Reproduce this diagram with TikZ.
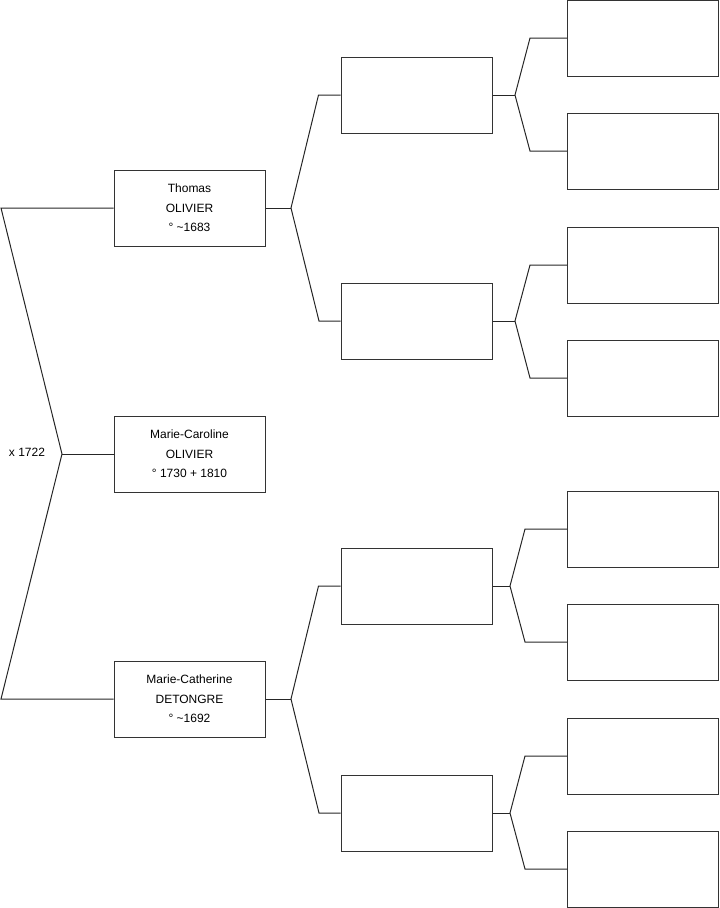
\documentclass[tikz,border=0pt]{standalone}
\usepackage{fontspec}
\setmainfont{Liberation Sans}
\usetikzlibrary{calc}

\begin{document}
\begin{tikzpicture}[
  x=0.75pt, y=-0.75pt,
  font=\fontsize{9}{14.6}\selectfont,
  person/.style={rectangle, draw=black!80, fill=white, line width=0.75pt,
                 minimum width=113.25pt, minimum height=57pt, align=center,
                 inner sep=0pt},
  link/.style={draw=black!85, line width=0.75pt},
]
\useasboundingbox (0,0) rectangle (719,908);
% first column: the couple and their daughter
\node (thomas)    [person] at (189.5,208) {Thomas\\OLIVIER\\° \textasciitilde1683};
\node (caroline)  [person] at (189.5,454) {Marie-Caroline\\OLIVIER\\° 1730 + 1810};
\node (catherine) [person] at (189.5,699) {Marie-Catherine\\DETONGRE\\° \textasciitilde1692};
\node (wed) at (27,452) {x 1722};
% second column (empty)
\node (g1) [person] at (416.5,95)  {};
\node (g2) [person] at (416.5,321) {};
\node (g3) [person] at (416.5,586) {};
\node (g4) [person] at (416.5,813) {};
% third column (empty)
\node (h1) [person] at (643,38)  {};
\node (h2) [person] at (643,151) {};
\node (h3) [person] at (643,265) {};
\node (h4) [person] at (643,378) {};
\node (h5) [person] at (643,529) {};
\node (h6) [person] at (643,642) {};
\node (h7) [person] at (643,756) {};
\node (h8) [person] at (643,869) {};
% couple bracket
\coordinate (left1) at (1,208);
\coordinate (left2) at (1,699);
\coordinate (mid)   at (62,454);
\draw [link] (thomas.west) -- (left1) -- (mid) -- (left2) -- (catherine.west);
\draw [link] (mid) -- (caroline.west);
% brackets to the second column
\coordinate (jt) at (291,208);
\draw [link] (thomas.east) -- (jt);
\draw [link] (g1.west) -- ++(-22,0) -- (jt) -- (319,321) -- (g2.west);
\coordinate (jc) at (291,699);
\draw [link] (catherine.east) -- (jc);
\draw [link] (g3.west) -- ++(-22,0) -- (jc) -- (319,813) -- (g4.west);
% brackets to the third column
\coordinate (j1) at (515,95);
\draw [link] (g1.east) -- (j1);
\draw [link] (h1.west) -- ++(-37,0) -- (j1) -- (530,151) -- (h2.west);
\coordinate (j2) at (515,321);
\draw [link] (g2.east) -- (j2);
\draw [link] (h3.west) -- ++(-37,0) -- (j2) -- (530,378) -- (h4.west);
\coordinate (j3) at (510,586);
\draw [link] (g3.east) -- (j3);
\draw [link] (h5.west) -- ++(-42,0) -- (j3) -- (525,642) -- (h6.west);
\coordinate (j4) at (510,813);
\draw [link] (g4.east) -- (j4);
\draw [link] (h7.west) -- ++(-42,0) -- (j4) -- (525,869) -- (h8.west);
\end{tikzpicture}
\end{document}
